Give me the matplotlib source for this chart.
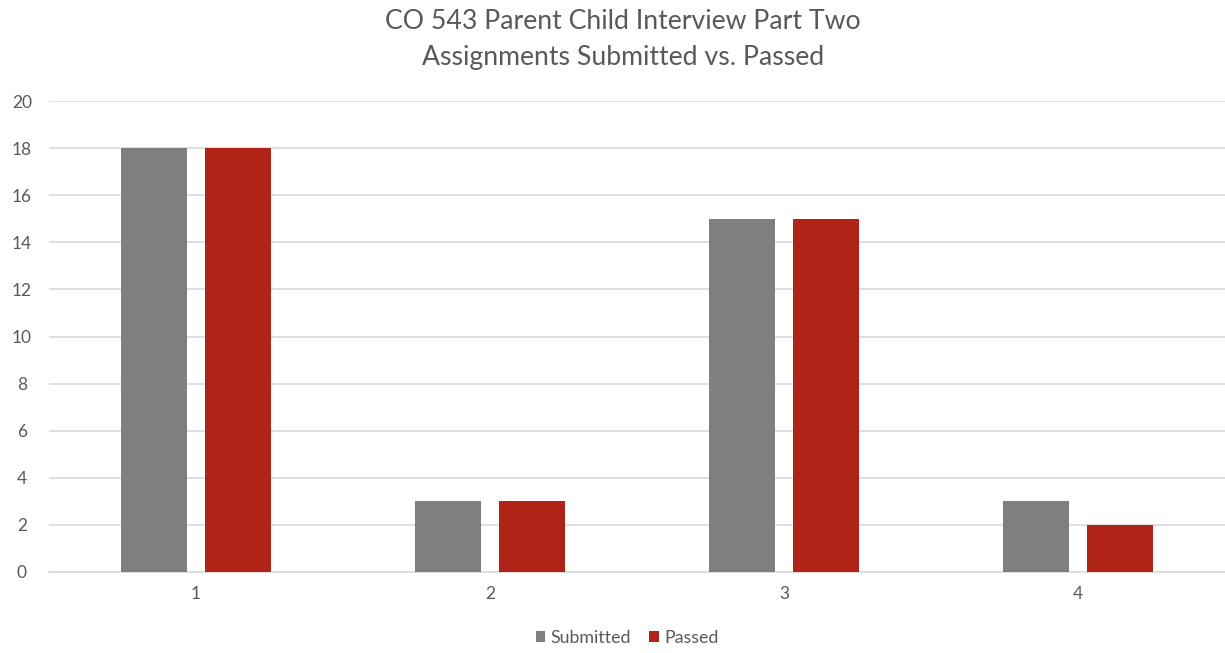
import numpy as np
import matplotlib.pyplot as plt

categories = ["1", "2", "3", "4"]
submitted = [18, 3, 15, 3]
passed = [18, 3, 15, 2]

plt.rcParams['font.family'] = ['Lato', 'DejaVu Sans']

fig = plt.figure(figsize=(12.25, 6.53), dpi=100)
ax = fig.add_axes([49 / 1225, 1 - 572 / 653, 1176 / 1225, 471 / 653])

x = np.arange(len(categories))
w = 0.2245
off = 0.143
ax.bar(x - off, submitted, w, color='#7f7f7f', label='Submitted', zorder=3)
ax.bar(x + off, passed, w, color='#b02418', label='Passed', zorder=3)

ax.set_xlim(-0.5, len(categories) - 0.5)
ax.set_ylim(0, 20)
ax.set_yticks(range(0, 21, 2))
ax.set_xticks(x)
ax.set_xticklabels(categories)
ax.yaxis.grid(True, color='#d9d9d9', linewidth=1.2, zorder=0)
for s in ['top', 'right', 'left']:
    ax.spines[s].set_visible(False)
ax.spines['bottom'].set_color('#d9d9d9')
ax.spines['bottom'].set_linewidth(1.2)
ax.tick_params(axis='both', length=0, labelsize=12.5, colors='#595959')
ax.tick_params(axis='y', pad=19.5)
ax.tick_params(axis='x', pad=10)
for lbl in ax.get_yticklabels():
    lbl.set_horizontalalignment('center')

fig.text(623 / 1225, 1 - 9 / 653, "CO 543 Parent Child Interview Part Two\nAssignments Submitted vs. Passed",
         ha='center', va='top', fontsize=19.2, color='#595959', linespacing=1.55)

fig.legend(loc='center', bbox_to_anchor=(627 / 1225, 1 - 638 / 653), ncol=2, frameon=False,
           fontsize=12.8, labelcolor='#595959', handlelength=0.55, handleheight=0.55,
           handletextpad=0.3, columnspacing=1.0)

fig.savefig('out.png', dpi=100)
